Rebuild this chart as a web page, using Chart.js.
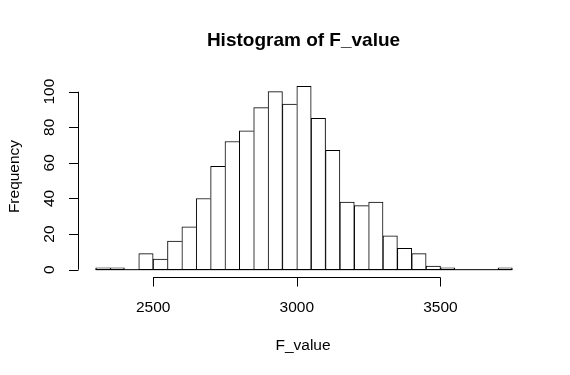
<!DOCTYPE html>
<html>
<head>
<meta charset="utf-8">
<script src="https://cdn.jsdelivr.net/npm/chart.js@4"></script>
<style>
  html, body { margin: 0; padding: 0; background: #fff; }
  #wrap { width: 570px; height: 375px; }
</style>
</head>
<body>
<div id="wrap"><canvas id="hist" width="570" height="375"></canvas></div>
<script>
  // -----------------------------
  // data (bin width 50)
  // -----------------------------
  const binStarts = [2300, 2350, 2400, 2450, 2500, 2550, 2600, 2650, 2700, 2750,
                     2800, 2850, 2900, 2950, 3000, 3050, 3100, 3150, 3200, 3250,
                     3300, 3350, 3400, 3450, 3500, 3550, 3600, 3650, 3700];
  const counts = [1, 1, 0, 9, 6, 16, 24, 40, 58, 72,
                  78, 91, 100, 93, 103, 85, 67, 38, 36, 38,
                  19, 12, 9, 2, 1, 0, 0, 0, 1];
  const binWidth = 50;
  const xTicks = [2500, 3000, 3500];
  const yTicks = [0, 20, 40, 60, 80, 100];

  const mainTitle = "Histogram of F_value";
  const xLabel = "F_value";
  const yLabel = "Frequency";

  // R style ranges: +4% on each side
  const xFirst = binStarts[0];
  const xLast = binStarts[binStarts.length - 1] + binWidth;
  const xPad = (xLast - xFirst) * 0.04;
  const yMaxCount = Math.max(...counts);
  const yPad = yMaxCount * 0.04;

  const barData = binStarts.map((s, i) => ({ x: s + binWidth / 2, y: counts[i] }));

  const FONT = '"Liberation Sans", Arial, sans-serif';

  // -----------------------------
  // R風の軸とタイトル
  // -----------------------------
  const rAxes = {
    id: "rAxes",
    afterDraw(chart) {
      const ctx = chart.ctx;
      const xs = chart.scales.x;
      const ys = chart.scales.y;
      const area = chart.chartArea;
      ctx.save();
      ctx.strokeStyle = "#000";
      ctx.fillStyle = "#000";
      ctx.lineWidth = 1;

      // x axis
      const ax = Math.round(area.bottom) + 0.5;
      ctx.beginPath();
      ctx.moveTo(xs.getPixelForValue(xTicks[0]), ax);
      ctx.lineTo(xs.getPixelForValue(xTicks[xTicks.length - 1]), ax);
      xTicks.forEach(t => {
        const p = Math.round(xs.getPixelForValue(t)) + 0.5;
        ctx.moveTo(p, ax);
        ctx.lineTo(p, ax + 9);
      });
      ctx.stroke();
      ctx.font = "15.5px " + FONT;
      ctx.textAlign = "center";
      ctx.textBaseline = "alphabetic";
      xTicks.forEach(t => {
        ctx.fillText(String(t), xs.getPixelForValue(t), 312);
      });

      // y axis
      const ay = Math.round(area.left) - 0.5;
      ctx.beginPath();
      ctx.moveTo(ay, ys.getPixelForValue(yTicks[0]));
      ctx.lineTo(ay, ys.getPixelForValue(yTicks[yTicks.length - 1]));
      yTicks.forEach(t => {
        const p = Math.round(ys.getPixelForValue(t)) + 0.5;
        ctx.moveTo(ay, p);
        ctx.lineTo(ay - 9.5, p);
      });
      ctx.stroke();
      yTicks.forEach(t => {
        ctx.save();
        ctx.translate(54, ys.getPixelForValue(t));
        ctx.rotate(-Math.PI / 2);
        ctx.fillText(String(t), 0, 0);
        ctx.restore();
      });

      // labels
      ctx.fillText(xLabel, 303, 350);
      ctx.save();
      ctx.translate(18.5, 176.5);
      ctx.rotate(-Math.PI / 2);
      ctx.fillText(yLabel, 0, 0);
      ctx.restore();

      ctx.font = "bold 19px " + FONT;
      ctx.fillText(mainTitle, 303.5, 46);
      ctx.restore();
    }
  };

  const ctx = document.getElementById("hist").getContext("2d");
  new Chart(ctx, {
    type: "bar",
    data: {
      datasets: [
        {
          type: "line",
          data: [{ x: xFirst, y: 0 }, { x: xLast, y: 0 }],
          borderColor: "#000",
          borderWidth: 1,
          pointRadius: 0,
          fill: false
        },
        {
          data: barData,
          backgroundColor: "#fff",
          borderColor: "#000",
          borderSkipped: false,
          borderWidth: c => {
            const i = c.dataIndex;
            const next = i + 1 < counts.length ? counts[i + 1] : 0;
            return { left: 1, top: 1, bottom: 1, right: next < counts[i] ? 1 : 0 };
          },
          barPercentage: 1,
          categoryPercentage: 1
        }
      ]
    },
    options: {
      responsive: false,
      animation: false,
      layout: { padding: { left: 79, right: 41, top: 79, bottom: 98 } },
      plugins: {
        legend: { display: false },
        title: { display: false },
        tooltip: { enabled: false }
      },
      scales: {
        x: {
          type: "linear",
          display: false,
          offset: false,
          min: xFirst - xPad,
          max: xLast + xPad
        },
        y: {
          type: "linear",
          display: false,
          min: -yPad,
          max: yMaxCount + yPad
        }
      }
    },
    plugins: [rAxes]
  });
</script>
</body>
</html>
